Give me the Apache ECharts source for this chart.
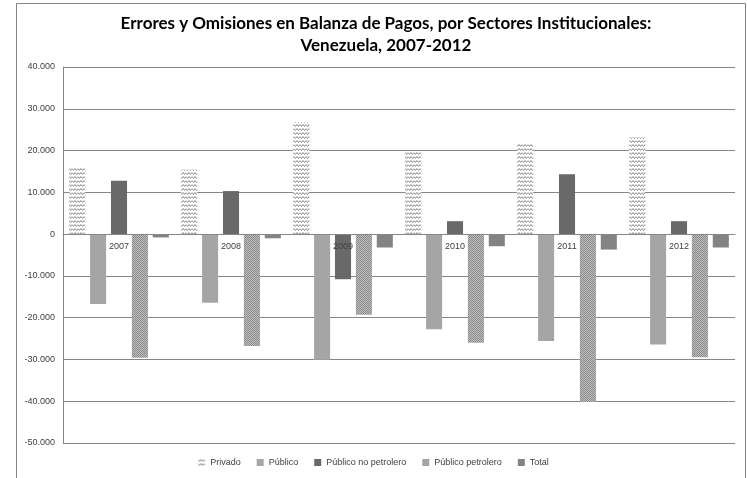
<!DOCTYPE html>
<html>
<head>
<meta charset="utf-8">
<script src="https://cdn.jsdelivr.net/npm/echarts@6/dist/echarts.min.js"></script>
<style>html,body{margin:0;padding:0;background:#fff}#c{width:747px;height:478px}</style>
</head>
<body>
<div id="c"></div>
<script>
const categories = ['2007','2008','2009','2010','2011','2012'];
const seriesNames = ['Privado','Público','Público no petrolero','Público petrolero','Total'];
const privado = [16000, 15400, 26800, 19700, 21800, 23100];
const publico = [-16700, -16400, -30100, -22800, -25600, -26400];
const publicoNoPetrolero = [12800, 10300, -10800, 3100, 14300, 3100];
const publicoPetrolero = [-29600, -26800, -19300, -26000, -40200, -29500];
const total = [-800, -1000, -3200, -2900, -3700, -3200];
const yTicks = {min: -50000, max: 40000, interval: 10000};

function zigzag(){
  const c = document.createElement('canvas'); c.width = 6; c.height = 4;
  const g = c.getContext('2d');
  g.fillStyle = '#ffffff'; g.fillRect(0,0,6,4);
  g.strokeStyle = '#8a8a8a'; g.lineWidth = 1;
  g.beginPath(); g.moveTo(0,0.5); g.lineTo(1.5,2.5); g.lineTo(3,0.5); g.lineTo(4.5,2.5); g.lineTo(6,0.5); g.stroke();
  return c;
}
function checker(){
  const c = document.createElement('canvas'); c.width = 2; c.height = 2;
  const g = c.getContext('2d');
  g.fillStyle = '#c2c2c2'; g.fillRect(0,0,2,2);
  g.fillStyle = '#868686'; g.fillRect(0,0,1,1); g.fillRect(1,1,1,1);
  return c;
}
const colors = [
  {image: zigzag(), repeat: 'repeat'},
  '#a5a5a5',
  '#696969',
  {image: checker(), repeat: 'repeat'},
  '#838383'
];
const data = [privado, publico, publicoNoPetrolero, publicoPetrolero, total];

const gridTop = 67, gridBottom = 35, H = 478;
const plotH = H - gridTop - gridBottom;
const zeroOffset = -(0 - yTicks.min) / (yTicks.max - yTicks.min) * plotH;

const chart = echarts.init(document.getElementById('c'));
chart.setOption({
  animation: false,
  backgroundColor: '#fff',
  title: {
    text: 'Errores y Omisiones en Balanza de Pagos, por Sectores Institucionales:\nVenezuela, 2007-2012',
    left: 381, textAlign: 'center', top: 8,
    textStyle: {fontFamily: 'Lato', fontWeight: 'bold', fontSize: 17, color: '#000', lineHeight: 22}
  },
  graphic: [{type: 'rect', shape: {x: 16.5, y: 3.5, width: 729, height: 480}, style: {fill: 'none', stroke: '#868686', lineWidth: 1}, z: -1}],
  legend: {
    bottom: 6, left: 'center',
    itemWidth: 7, itemHeight: 7, itemGap: 16,
    icon: 'rect',
    textStyle: {fontFamily: 'Liberation Sans', fontSize: 9, color: '#404040'},
    data: seriesNames
  },
  grid: {left: 63, right: 12, top: gridTop, bottom: gridBottom, containLabel: false},
  xAxis: {
    type: 'category', data: categories, position: 'bottom', offset: zeroOffset, z: 10,
    axisLine: {onZero: false, lineStyle: {color: '#868686'}},
    axisTick: {show: false},
    axisLabel: {fontFamily: 'Liberation Sans', fontSize: 9, color: '#404040', margin: 8},
    splitLine: {show: false}
  },
  yAxis: {
    type: 'value', min: yTicks.min, max: yTicks.max, interval: yTicks.interval,
    axisLine: {show: true, lineStyle: {color: '#868686'}},
    axisTick: {show: false},
    axisLabel: {
      fontFamily: 'Liberation Sans', fontSize: 9, color: '#404040', margin: 8,
      formatter: v => v === 0 ? '0' : (v < 0 ? '-' : '') + Math.abs(v).toLocaleString('de-DE')
    },
    splitLine: {lineStyle: {color: '#868686', width: 1}}
  },
  series: seriesNames.map((n, i) => ({
    name: n, type: 'bar', data: data[i],
    barGap: '30%', barCategoryGap: '11%',
    itemStyle: {color: colors[i]}
  }))
});
</script>
</body>
</html>
